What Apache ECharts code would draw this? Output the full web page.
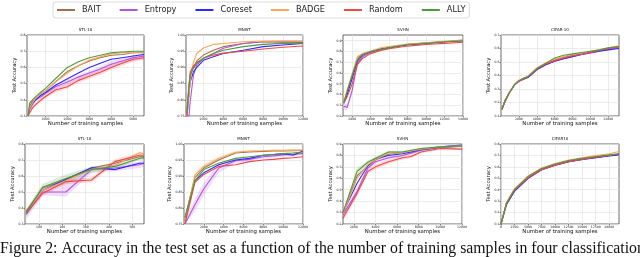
<!DOCTYPE html>
<html><head><meta charset="utf-8">
<script src="https://cdn.jsdelivr.net/npm/echarts@6/dist/echarts.min.js"></script>
<style>html,body{margin:0;padding:0;background:#fff}#c{width:640px;height:257px}</style>
</head><body><div id="c"></div>
<script>
const methods = ['BAIT','Entropy','Coreset','BADGE','Random','ALLY'];
const colors = ['#a0704c','#b355e0','#2b2bff','#f7a65a','#f04848','#4c9c3c'];

// ---- Top row: STL-10 ----
const stlTopX = [200, 270, 400, 550, 800, 1000, 1450, 2000, 2500, 3000, 3500, 4000, 4500, 5000, 5500];
const stlTopBAIT    = [0.30, 0.36, 0.39, 0.41, 0.44, 0.455, 0.51, 0.575, 0.61, 0.64, 0.66, 0.675, 0.68, 0.69, 0.69];
const stlTopEntropy = [0.30, 0.34, 0.37, 0.40, 0.42, 0.44, 0.48, 0.51, 0.54, 0.565, 0.59, 0.62, 0.64, 0.66, 0.67];
const stlTopCoreset = [0.30, 0.35, 0.38, 0.40, 0.43, 0.445, 0.49, 0.53, 0.565, 0.60, 0.625, 0.65, 0.66, 0.67, 0.68];
const stlTopBADGE   = [0.30, 0.35, 0.38, 0.41, 0.44, 0.455, 0.51, 0.565, 0.61, 0.645, 0.665, 0.685, 0.69, 0.69, 0.695];
const stlTopRandom  = [0.30, 0.32, 0.35, 0.37, 0.40, 0.42, 0.46, 0.48, 0.52, 0.545, 0.57, 0.60, 0.625, 0.65, 0.66];
const stlTopALLY    = [0.30, 0.38, 0.40, 0.42, 0.45, 0.47, 0.53, 0.60, 0.635, 0.66, 0.675, 0.69, 0.695, 0.70, 0.70];
const stlTopRandomLo  = [0.30, 0.31, 0.34, 0.36, 0.39, 0.41, 0.445, 0.47, 0.505, 0.53, 0.555, 0.585, 0.61, 0.635, 0.645];
const stlTopRandomHi  = [0.30, 0.33, 0.36, 0.385, 0.415, 0.435, 0.475, 0.50, 0.535, 0.56, 0.585, 0.615, 0.64, 0.665, 0.675];
const stlTopEntropyLo = [0.30, 0.33, 0.36, 0.39, 0.41, 0.43, 0.465, 0.495, 0.525, 0.55, 0.575, 0.60, 0.625, 0.64, 0.65];
const stlTopEntropyHi = [0.30, 0.35, 0.38, 0.41, 0.43, 0.45, 0.495, 0.525, 0.555, 0.58, 0.605, 0.64, 0.655, 0.675, 0.685];
const stlTopXTicks = [1000, 2000, 3000, 4000, 5000];
const stlTopYTicks = [0.3, 0.4, 0.5, 0.6, 0.7, 0.8];

// ---- Top row: MNIST ----
const mnistTopX = [333, 500, 667, 1000, 1333, 2000, 3000, 4000, 6000, 8000, 10000, 12000];
const mnistTopBAIT    = [0.76, 0.82, 0.876, 0.90, 0.92, 0.938, 0.953, 0.964, 0.974, 0.979, 0.978, 0.977];
const mnistTopEntropy = [0.70, 0.73, 0.793, 0.876, 0.907, 0.928, 0.943, 0.959, 0.974, 0.979, 0.979, 0.979];
const mnistTopCoreset = [0.74, 0.80, 0.855, 0.886, 0.90, 0.922, 0.933, 0.943, 0.953, 0.964, 0.969, 0.974];
const mnistTopBADGE   = [0.75, 0.80, 0.855, 0.917, 0.943, 0.96, 0.971, 0.974, 0.979, 0.981, 0.982, 0.982];
const mnistTopRandom  = [0.75, 0.83, 0.886, 0.905, 0.915, 0.928, 0.938, 0.944, 0.95, 0.957, 0.962, 0.966];
const mnistTopALLY    = [0.76, 0.82, 0.876, 0.897, 0.912, 0.928, 0.943, 0.953, 0.964, 0.971, 0.974, 0.975];
const mnistTopXTicks = [2000, 4000, 6000, 8000, 10000, 12000];
const mnistTopYTicks = [0.75, 0.80, 0.85, 0.90, 0.95, 1.00];

// ---- Top row: SVHN ----
const svhnTopX = [1100, 1450, 2000, 2550, 3100, 4000, 5100, 6000, 8000, 10000, 12000, 14000];
const svhnTopBAIT    = [0.33, 0.42, 0.57, 0.735, 0.775, 0.80, 0.825, 0.84, 0.865, 0.88, 0.89, 0.905];
const svhnTopEntropy = [0.29, 0.28, 0.44, 0.69, 0.75, 0.79, 0.82, 0.835, 0.865, 0.878, 0.89, 0.90];
const svhnTopCoreset = [0.32, 0.40, 0.55, 0.71, 0.765, 0.80, 0.82, 0.835, 0.862, 0.875, 0.89, 0.90];
const svhnTopBADGE   = [0.33, 0.44, 0.595, 0.75, 0.78, 0.805, 0.835, 0.845, 0.87, 0.88, 0.895, 0.905];
const svhnTopRandom  = [0.32, 0.38, 0.50, 0.675, 0.735, 0.78, 0.81, 0.825, 0.85, 0.865, 0.875, 0.885];
const svhnTopALLY    = [0.33, 0.43, 0.58, 0.72, 0.77, 0.80, 0.82, 0.835, 0.865, 0.875, 0.89, 0.90];
const svhnTopEntropyLo = [0.26, 0.25, 0.41, 0.67, 0.74, 0.785, 0.815, 0.83, 0.86, 0.873, 0.885, 0.895];
const svhnTopEntropyHi = [0.32, 0.31, 0.47, 0.71, 0.76, 0.795, 0.825, 0.84, 0.87, 0.883, 0.895, 0.905];
const svhnTopXTicks = [2000, 4000, 6000, 8000, 10000, 12000, 14000];
const svhnTopYTicks = [0.2, 0.3, 0.4, 0.5, 0.6, 0.7, 0.8, 0.9];

// ---- Top row: CIFAR-10 ----
const cifarTopX = [100, 500, 1000, 1500, 2000, 2500, 3000, 3500, 4000, 5000, 6000, 7000, 8000, 9000, 10000, 11000, 12000, 13200];
const cifarTopBAIT    = [0.15, 0.22, 0.28, 0.33, 0.36, 0.375, 0.39, 0.42, 0.45, 0.49, 0.515, 0.535, 0.55, 0.56, 0.575, 0.585, 0.60, 0.615];
const cifarTopEntropy = [0.15, 0.21, 0.28, 0.33, 0.355, 0.37, 0.385, 0.41, 0.44, 0.48, 0.505, 0.525, 0.54, 0.555, 0.565, 0.58, 0.595, 0.605];
const cifarTopCoreset = [0.15, 0.22, 0.28, 0.33, 0.36, 0.375, 0.385, 0.415, 0.445, 0.48, 0.505, 0.525, 0.54, 0.555, 0.57, 0.58, 0.59, 0.60];
const cifarTopBADGE   = [0.15, 0.22, 0.285, 0.335, 0.365, 0.38, 0.395, 0.425, 0.455, 0.495, 0.52, 0.54, 0.555, 0.565, 0.58, 0.59, 0.605, 0.62];
const cifarTopRandom  = [0.15, 0.22, 0.28, 0.33, 0.36, 0.375, 0.39, 0.42, 0.45, 0.485, 0.51, 0.53, 0.545, 0.555, 0.57, 0.585, 0.60, 0.61];
const cifarTopALLY    = [0.15, 0.22, 0.28, 0.33, 0.36, 0.38, 0.39, 0.42, 0.45, 0.49, 0.53, 0.55, 0.56, 0.57, 0.58, 0.59, 0.605, 0.615];
const cifarTopXTicks = [2000, 4000, 6000, 8000, 10000, 12000];
const cifarTopYTicks = [0.1, 0.2, 0.3, 0.4, 0.5, 0.6, 0.7];

// ---- Bottom row: STL-10 ----
const stlBotX = [45, 115, 215, 325, 425, 530, 550];
const stlBotBAIT    = [0.38, 0.525, 0.575, 0.65, 0.68, 0.72, 0.72];
const stlBotEntropy = [0.36, 0.50, 0.50, 0.64, 0.65, 0.67, 0.68];
const stlBotCoreset = [0.37, 0.51, 0.58, 0.652, 0.64, 0.68, 0.68];
const stlBotBADGE   = [0.37, 0.51, 0.57, 0.64, 0.665, 0.745, 0.74];
const stlBotRandom  = [0.37, 0.49, 0.565, 0.575, 0.69, 0.73, 0.73];
const stlBotALLY    = [0.37, 0.53, 0.585, 0.64, 0.66, 0.71, 0.715];
const stlBotEntropyLo = [0.33, 0.48, 0.47, 0.62, 0.63, 0.65, 0.66];
const stlBotEntropyHi = [0.39, 0.52, 0.56, 0.66, 0.67, 0.69, 0.70];
const stlBotALLYLo    = [0.35, 0.51, 0.55, 0.62, 0.645, 0.70, 0.70];
const stlBotALLYHi    = [0.39, 0.55, 0.61, 0.66, 0.675, 0.72, 0.73];
const stlBotRandomLo  = [0.35, 0.475, 0.55, 0.56, 0.675, 0.72, 0.72];
const stlBotRandomHi  = [0.39, 0.505, 0.58, 0.59, 0.705, 0.745, 0.745];
const stlBotXTicks = [100, 200, 300, 400, 500];
const stlBotYTicks = [0.3, 0.4, 0.5, 0.6, 0.7, 0.8];

// ---- Bottom row: MNIST ----
const mnistBotX = [100, 1100, 2000, 3500, 5200, 6600, 8000, 9000, 10000, 11000, 12000];
const mnistBotBAIT    = [0.77, 0.895, 0.925, 0.95, 0.972, 0.975, 0.977, 0.978, 0.978, 0.979, 0.98];
const mnistBotEntropy = [0.75, 0.81, 0.86, 0.925, 0.948, 0.952, 0.96, 0.963, 0.966, 0.968, 0.97];
const mnistBotCoreset = [0.76, 0.885, 0.91, 0.935, 0.95, 0.955, 0.965, 0.967, 0.97, 0.965, 0.978];
const mnistBotBADGE   = [0.76, 0.903, 0.93, 0.955, 0.974, 0.978, 0.979, 0.98, 0.98, 0.981, 0.981];
const mnistBotRandom  = [0.75, 0.88, 0.905, 0.93, 0.935, 0.945, 0.95, 0.952, 0.955, 0.957, 0.96];
const mnistBotALLY    = [0.77, 0.885, 0.92, 0.94, 0.955, 0.96, 0.965, 0.967, 0.97, 0.972, 0.975];
const mnistBotEntropyLo = [0.75, 0.79, 0.84, 0.91, 0.94, 0.945, 0.955, 0.958, 0.96, 0.962, 0.965];
const mnistBotEntropyHi = [0.76, 0.83, 0.88, 0.94, 0.956, 0.96, 0.966, 0.968, 0.972, 0.974, 0.975];
const mnistBotBADGELo   = [0.75, 0.895, 0.925, 0.95, 0.97, 0.975, 0.976, 0.977, 0.977, 0.978, 0.978];
const mnistBotBADGEHi   = [0.77, 0.912, 0.938, 0.962, 0.978, 0.981, 0.982, 0.983, 0.983, 0.984, 0.984];
const mnistBotXTicks = [2000, 4000, 6000, 8000, 10000, 12000];
const mnistBotYTicks = [0.75, 0.80, 0.85, 0.90, 0.95, 1.00];

// ---- Bottom row: SVHN ----
const svhnBotX = [1000, 2300, 3300, 4000, 5200, 6500, 7300, 8200, 10000, 12000];
const svhnBotBAIT    = [0.29, 0.62, 0.71, 0.76, 0.81, 0.825, 0.835, 0.85, 0.87, 0.88];
const svhnBotEntropy = [0.28, 0.485, 0.69, 0.745, 0.78, 0.80, 0.82, 0.845, 0.87, 0.88];
const svhnBotCoreset = [0.30, 0.557, 0.71, 0.77, 0.80, 0.815, 0.83, 0.85, 0.875, 0.89];
const svhnBotBADGE   = [0.29, 0.60, 0.72, 0.765, 0.82, 0.825, 0.84, 0.855, 0.875, 0.885];
const svhnBotRandom  = [0.25, 0.47, 0.66, 0.70, 0.745, 0.78, 0.79, 0.83, 0.86, 0.855];
const svhnBotALLY    = [0.30, 0.66, 0.74, 0.775, 0.83, 0.83, 0.845, 0.86, 0.875, 0.885];
const svhnBotRandomLo  = [0.23, 0.44, 0.64, 0.68, 0.725, 0.765, 0.775, 0.82, 0.85, 0.845];
const svhnBotRandomHi  = [0.27, 0.50, 0.68, 0.72, 0.765, 0.795, 0.805, 0.84, 0.87, 0.865];
const svhnBotEntropyLo = [0.26, 0.45, 0.67, 0.73, 0.765, 0.79, 0.81, 0.835, 0.86, 0.87];
const svhnBotEntropyHi = [0.30, 0.52, 0.71, 0.76, 0.795, 0.81, 0.83, 0.855, 0.88, 0.89];
const svhnBotALLYLo    = [0.29, 0.63, 0.725, 0.765, 0.82, 0.82, 0.835, 0.852, 0.868, 0.878];
const svhnBotALLYHi    = [0.31, 0.69, 0.755, 0.785, 0.84, 0.84, 0.855, 0.868, 0.882, 0.892];
const svhnBotXTicks = [2000, 4000, 6000, 8000, 10000, 12000];
const svhnBotYTicks = [0.2, 0.3, 0.4, 0.5, 0.6, 0.7, 0.8, 0.9];

// ---- Bottom row: CIFAR10 ----
const cifarBotX = [0, 1000, 2500, 5000, 7500, 10000, 12500, 15000, 17500, 20000, 21800];
const cifarBotBAIT    = [0.10, 0.28, 0.40, 0.51, 0.58, 0.62, 0.65, 0.67, 0.685, 0.70, 0.71];
const cifarBotEntropy = [0.10, 0.27, 0.385, 0.50, 0.575, 0.615, 0.645, 0.665, 0.68, 0.70, 0.71];
const cifarBotCoreset = [0.10, 0.27, 0.39, 0.50, 0.575, 0.615, 0.645, 0.665, 0.68, 0.695, 0.705];
const cifarBotBADGE   = [0.10, 0.29, 0.41, 0.52, 0.59, 0.63, 0.66, 0.68, 0.70, 0.715, 0.735];
const cifarBotRandom  = [0.10, 0.28, 0.40, 0.505, 0.575, 0.615, 0.645, 0.665, 0.685, 0.70, 0.715];
const cifarBotALLY    = [0.10, 0.28, 0.40, 0.515, 0.585, 0.625, 0.655, 0.675, 0.69, 0.705, 0.715];
const cifarBotXTicks = [0, 2500, 5000, 7500, 10000, 12500, 15000, 17500, 20000];
const cifarBotYTicks = [0.1, 0.2, 0.3, 0.4, 0.5, 0.6, 0.7, 0.8];

const caption = 'Figure 2: Accuracy in the test set as a function of the number of training samples in four classification';

const panels = [
  {t:'STL-10', x:stlTopX, ys:[stlTopBAIT,stlTopEntropy,stlTopCoreset,stlTopBADGE,stlTopRandom,stlTopALLY], g:[27,35,117,81], xr:[150,5500], xt:stlTopXTicks, yr:[0.3,0.8], yt:stlTopYTicks, yd:1, yg:9.5,
   bands:[[4,stlTopRandomLo,stlTopRandomHi],[1,stlTopEntropyLo,stlTopEntropyHi]]},
  {t:'MNIST', x:mnistTopX, ys:[mnistTopBAIT,mnistTopEntropy,mnistTopCoreset,mnistTopBADGE,mnistTopRandom,mnistTopALLY], g:[186,35,117,81], xr:[250,12000], xt:mnistTopXTicks, yr:[0.75,1.0], yt:mnistTopYTicks, yd:2, yg:8.7, bands:[]},
  {t:'SVHN', x:svhnTopX, ys:[svhnTopBAIT,svhnTopEntropy,svhnTopCoreset,svhnTopBADGE,svhnTopRandom,svhnTopALLY], g:[343,35,120,81], xr:[1000,14000], xt:svhnTopXTicks, yr:[0.2,0.953], yt:svhnTopYTicks, yd:1, yg:5.7,
   bands:[[1,svhnTopEntropyLo,svhnTopEntropyHi]]},
  {t:'CIFAR-10', x:cifarTopX, ys:[cifarTopBAIT,cifarTopEntropy,cifarTopCoreset,cifarTopBADGE,cifarTopRandom,cifarTopALLY], g:[501,35,118,81], xr:[0,13200], xt:cifarTopXTicks, yr:[0.1,0.7], yt:cifarTopYTicks, yd:1, yg:10, bands:[]},
  {t:'STL-10', x:stlBotX, ys:[stlBotBAIT,stlBotEntropy,stlBotCoreset,stlBotBADGE,stlBotRandom,stlBotALLY], g:[25,144,119,80], xr:[40,550], xt:stlBotXTicks, yr:[0.3,0.8], yt:stlBotYTicks, yd:1, yg:5,
   bands:[[1,stlBotEntropyLo,stlBotEntropyHi],[5,stlBotALLYLo,stlBotALLYHi],[4,stlBotRandomLo,stlBotRandomHi]]},
  {t:'MNIST', x:mnistBotX, ys:[mnistBotBAIT,mnistBotEntropy,mnistBotCoreset,mnistBotBADGE,mnistBotRandom,mnistBotALLY], g:[184,144,119,80], xr:[0,12000], xt:mnistBotXTicks, yr:[0.75,1.0], yt:mnistBotYTicks, yd:2, yg:11,
   bands:[[1,mnistBotEntropyLo,mnistBotEntropyHi],[3,mnistBotBADGELo,mnistBotBADGEHi]]},
  {t:'SVHN', x:svhnBotX, ys:[svhnBotBAIT,svhnBotEntropy,svhnBotCoreset,svhnBotBADGE,svhnBotRandom,svhnBotALLY], g:[343,144,119,80], xr:[1000,12000], xt:svhnBotXTicks, yr:[0.2,0.9], yt:svhnBotYTicks, yd:1, yg:10,
   bands:[[4,svhnBotRandomLo,svhnBotRandomHi],[1,svhnBotEntropyLo,svhnBotEntropyHi],[5,svhnBotALLYLo,svhnBotALLYHi]]},
  {t:'CIFAR10', x:cifarBotX, ys:[cifarBotBAIT,cifarBotEntropy,cifarBotCoreset,cifarBotBADGE,cifarBotRandom,cifarBotALLY], g:[501,144,118,80], xr:[0,21800], xt:cifarBotXTicks, yr:[0.1,0.8], yt:cifarBotYTicks, yd:1, yg:10, bands:[]}
];

const FONT = 'DejaVu Sans';
const grids = [], xAxes = [], yAxes = [], series = [], graphics = [];
panels.forEach((p, i) => {
  grids.push({left:p.g[0], top:p.g[1], width:p.g[2], height:p.g[3], show:true, borderColor:'#444', borderWidth:0.8, backgroundColor:'#fff'});
  xAxes.push({type:'value', gridIndex:i, min:p.xr[0], max:p.xr[1],
    name:'Number of training samples', nameLocation:'middle', nameGap:5,
    nameTextStyle:{fontSize:5.4, fontFamily:FONT, color:'#111'},
    axisLine:{show:false},
    axisTick:{show:true, length:1.5, customValues:p.xt, lineStyle:{color:'#444', width:0.6}},
    axisLabel:{customValues:p.xt, fontSize:3.1, margin:1.5, color:'#222', fontFamily:FONT, formatter:v=>String(Math.round(v))},
    splitLine:{show:true, lineStyle:{color:'#e2e2e2', width:0.7}}
  });
  yAxes.push({type:'value', gridIndex:i, min:p.yr[0], max:p.yr[1],
    name:'Test Accuracy', nameLocation:'middle', nameGap:p.yg,
    nameTextStyle:{fontSize:5.2, fontFamily:FONT, color:'#111'},
    axisLine:{show:false},
    axisTick:{show:true, length:1.5, customValues:p.yt, lineStyle:{color:'#444', width:0.6}},
    axisLabel:{customValues:p.yt, fontSize:3.1, margin:1.5, color:'#222', fontFamily:FONT, formatter:v=>v.toFixed(p.yd)},
    splitLine:{show:true, lineStyle:{color:'#e2e2e2', width:0.7}}
  });
  p.bands.forEach(b => {
    const k = b[0], lo = b[1], hi = b[2], xs = p.x;
    series.push({type:'custom', name:'_band', xAxisIndex:i, yAxisIndex:i, z:1, silent:true, clip:true,
      data:[[xs[0], lo[0]]],
      renderItem:(params, api) => {
        const pts = [];
        for (let j = 0; j < xs.length; j++) pts.push(api.coord([xs[j], hi[j]]));
        for (let j = xs.length - 1; j >= 0; j--) pts.push(api.coord([xs[j], lo[j]]));
        const cs = params.coordSys;
        return {type:'polygon', shape:{points:pts},
          clipPath:{type:'rect', shape:{x:cs.x, y:cs.y, width:cs.width, height:cs.height}},
          style:{fill:colors[k], opacity:0.2}};
      }});
  });
  p.ys.forEach((ys, k) => {
    series.push({type:'line', name:methods[k], xAxisIndex:i, yAxisIndex:i, z:2,
      data:p.x.map((xv, j) => [xv, ys[j]]), showSymbol:false, symbol:'none', clip:true,
      lineStyle:{width:1.1, color:colors[k]}, itemStyle:{color:colors[k]}});
  });
  graphics.push({type:'text', x:p.g[0] + p.g[2]/2, y:p.g[1] - 7,
    style:{text:p.t, font:'4px ' + FONT, fill:'#111', align:'center', verticalAlign:'top', textAlign:'center', textVerticalAlign:'top'}});
});
graphics.push({type:'text', x:0, y:241, style:{text:caption, font:'15.8px "Liberation Serif"', fill:'#111', align:'left', verticalAlign:'top'}});

const chart = echarts.init(document.getElementById('c'), null, {renderer:'canvas'});
chart.setOption({
  animation:false,
  backgroundColor:'#fff',
  legend:{data:methods, left:53, top:2, padding:[4,4,4,4], itemGap:19, itemWidth:18, itemHeight:2, icon:'rect',
    borderColor:'#d0d0d0', borderWidth:0.8, borderRadius:3,
    textStyle:{fontSize:8.2, fontFamily:FONT, color:'#222', padding:[0,0,0,2]}},
  grid:grids, xAxis:xAxes, yAxis:yAxes, series:series, graphic:graphics
});
</script></body></html>
